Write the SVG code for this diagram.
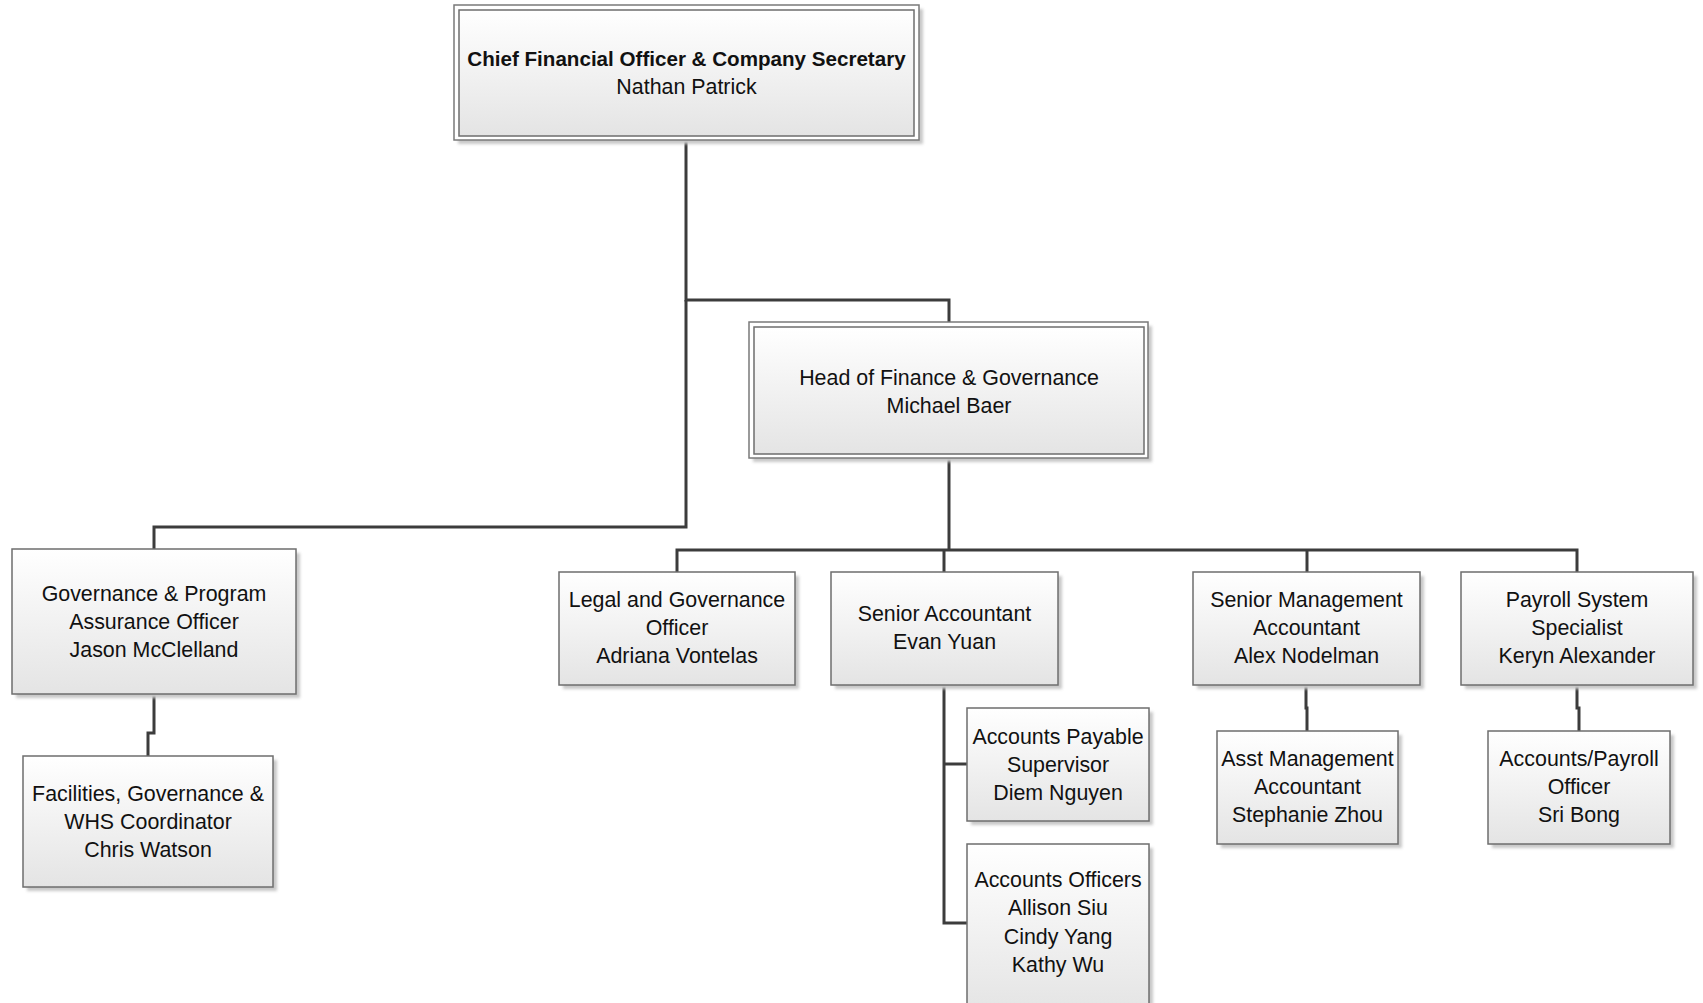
<svg xmlns="http://www.w3.org/2000/svg" width="1703" height="1003" viewBox="0 0 1703 1003">
<defs>
<linearGradient id="g" x1="0" y1="0" x2="0" y2="1">
<stop offset="0" stop-color="#ffffff"/>
<stop offset="1" stop-color="#e4e4e4"/>
</linearGradient>
<filter id="sh" x="-5%" y="-5%" width="115%" height="120%">
<feGaussianBlur stdDeviation="1.5"/>
</filter>
</defs>
<style>
.box{fill:url(#g);stroke:#6e6e6e;stroke-width:1.5}
.outer{fill:#ffffff;stroke:#7a7a7a;stroke-width:1.5}
.shadow{fill:#c8c8c8;filter:url(#sh)}
.t{font-family:"Liberation Sans",Arial,sans-serif;font-size:21.4px;fill:#111111;text-anchor:middle}
.b{font-weight:bold;font-size:20.6px}
.c{fill:none;stroke:#3c3c3c;stroke-width:3}
</style>
<rect width="1703" height="1003" fill="#ffffff"/>
<g id="connectors">
<path class="c" d="M686,140 V300 H949 V322"/>
<path class="c" d="M686,300 V527 H154 V549"/>
<path class="c" d="M154,694 V733 H148 V756"/>
<path class="c" d="M949,458 V550"/>
<path class="c" d="M677,572 V550 H1577 V572"/>
<path class="c" d="M944,550 V572"/>
<path class="c" d="M1307,550 V572"/>
<path class="c" d="M944,685 V923 H967"/>
<path class="c" d="M944,764 H967"/>
<path class="c" d="M1306,685 V708 H1307 V731"/>
<path class="c" d="M1577,685 V708 H1579 V731"/>
</g>
<g id="cfo">
<rect class="shadow" x="458" y="9" width="465" height="135"/>
<rect class="outer" x="454" y="5" width="465" height="135"/>
<rect class="box" x="459" y="10" width="455" height="126"/>
<text class="t b" x="686.5" y="66">Chief Financial Officer &amp; Company Secretary</text>
<text class="t" x="686.5" y="94">Nathan Patrick</text>
</g>
<g id="head">
<rect class="shadow" x="753" y="326" width="399" height="136"/>
<rect class="outer" x="749" y="322" width="399" height="136"/>
<rect class="box" x="754" y="327" width="390" height="127"/>
<text class="t" x="949" y="385">Head of Finance &amp; Governance</text>
<text class="t" x="949" y="413">Michael Baer</text>
</g>
<g id="gov">
<rect class="shadow" x="16" y="553" width="284" height="145"/>
<rect class="box" x="12" y="549" width="284" height="145"/>
<text class="t" x="154" y="601">Governance &amp; Program</text>
<text class="t" x="154" y="629">Assurance Officer</text>
<text class="t" x="154" y="657">Jason McClelland</text>
</g>
<g id="chris">
<rect class="shadow" x="27" y="760" width="250" height="131"/>
<rect class="box" x="23" y="756" width="250" height="131"/>
<text class="t" x="148" y="801">Facilities, Governance &amp;</text>
<text class="t" x="148" y="829">WHS Coordinator</text>
<text class="t" x="148" y="857">Chris Watson</text>
</g>
<g id="legal">
<rect class="shadow" x="563" y="576" width="236" height="113"/>
<rect class="box" x="559" y="572" width="236" height="113"/>
<text class="t" x="677" y="607">Legal and Governance</text>
<text class="t" x="677" y="635">Officer</text>
<text class="t" x="677" y="663">Adriana Vontelas</text>
</g>
<g id="senacc">
<rect class="shadow" x="835" y="576" width="227" height="113"/>
<rect class="box" x="831" y="572" width="227" height="113"/>
<text class="t" x="944.5" y="621">Senior Accountant</text>
<text class="t" x="944.5" y="649">Evan Yuan</text>
</g>
<g id="senmgmt">
<rect class="shadow" x="1197" y="576" width="227" height="113"/>
<rect class="box" x="1193" y="572" width="227" height="113"/>
<text class="t" x="1306.5" y="607">Senior Management</text>
<text class="t" x="1306.5" y="635">Accountant</text>
<text class="t" x="1306.5" y="663">Alex Nodelman</text>
</g>
<g id="payroll">
<rect class="shadow" x="1465" y="576" width="232" height="113"/>
<rect class="box" x="1461" y="572" width="232" height="113"/>
<text class="t" x="1577" y="607">Payroll System</text>
<text class="t" x="1577" y="635">Specialist</text>
<text class="t" x="1577" y="663">Keryn Alexander</text>
</g>
<g id="ap">
<rect class="shadow" x="971" y="712" width="182" height="113"/>
<rect class="box" x="967" y="708" width="182" height="113"/>
<text class="t" x="1058" y="744">Accounts Payable</text>
<text class="t" x="1058" y="772">Supervisor</text>
<text class="t" x="1058" y="800">Diem Nguyen</text>
</g>
<g id="ao">
<rect class="shadow" x="971" y="848" width="182" height="170"/>
<rect class="box" x="967" y="844" width="182" height="170"/>
<text class="t" x="1058" y="887">Accounts Officers</text>
<text class="t" x="1058" y="915">Allison Siu</text>
<text class="t" x="1058" y="944">Cindy Yang</text>
<text class="t" x="1058" y="972">Kathy Wu</text>
</g>
<g id="asst">
<rect class="shadow" x="1221" y="735" width="181" height="113"/>
<rect class="box" x="1217" y="731" width="181" height="113"/>
<text class="t" x="1307.5" y="766">Asst Management</text>
<text class="t" x="1307.5" y="794">Accountant</text>
<text class="t" x="1307.5" y="822">Stephanie Zhou</text>
</g>
<g id="accpay">
<rect class="shadow" x="1492" y="735" width="182" height="113"/>
<rect class="box" x="1488" y="731" width="182" height="113"/>
<text class="t" x="1579" y="766">Accounts/Payroll</text>
<text class="t" x="1579" y="794">Officer</text>
<text class="t" x="1579" y="822">Sri Bong</text>
</g>
</svg>
